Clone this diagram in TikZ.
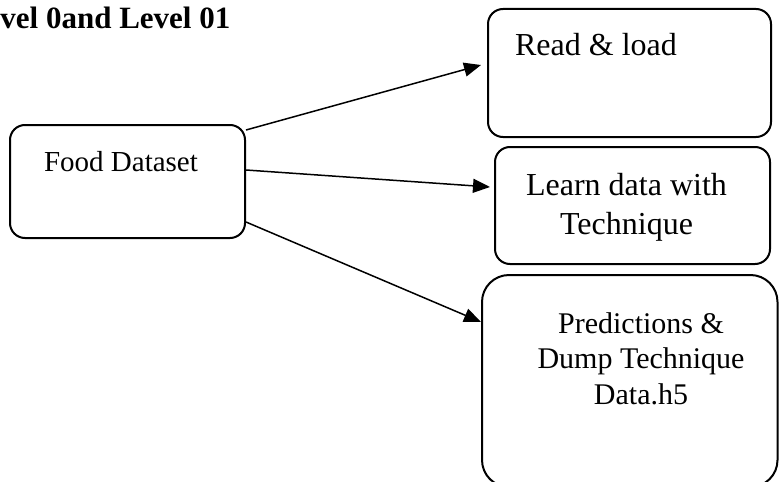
\documentclass[tikz,border=0pt]{standalone}
\usepackage{fontspec}
\setmainfont{Liberation Serif}
\usetikzlibrary{arrows.meta}
\tikzset{
  box/.style={draw, line width=1pt, rounded corners=#1, inner sep=0pt},
  box/.default=7.5pt,
  flow/.style={line width=0.75pt, -{Triangle[length=8.5pt,width=7pt]}},
  txt/.style={inner sep=0pt, anchor=base},
}
\begin{document}
\begin{tikzpicture}[x=0.5pt,y=-0.5pt]
\useasboundingbox (0,0) rectangle (779,481);

% title
\node[txt, anchor=base west] (title) at (0,29) {\fontsize{15.5pt}{18pt}\selectfont\bfseries vel 0and Level 01};

% boxes
\node[box, minimum width=117.5pt, minimum height=56.5pt] (food) at (127.5,181.5) {};
\node[box, minimum width=141.5pt, minimum height=64pt] (read) at (629.5,73) {};
\node[box, minimum width=137.5pt, minimum height=58.5pt] (learn) at (632.5,205.5) {};
\node[box=13.5pt, minimum width=147.75pt, minimum height=106pt] (pred) at (629.75,381) {};

% box texts
\node[txt] (foodt) at (121,171) {\fontsize{14.5pt}{17pt}\selectfont Food Dataset};
\node[txt] (readt) at (596,55) {\fontsize{16pt}{19pt}\selectfont Read \& load};
\node[txt] (learnt1) at (626.5,195) {\fontsize{16pt}{19pt}\selectfont Learn data with};
\node[txt] (learnt2) at (626.5,234) {\fontsize{16pt}{19pt}\selectfont Technique};
\node[txt] (predt1) at (641,333) {\fontsize{15pt}{18pt}\selectfont Predictions \&};
\node[txt] (predt2) at (641,368) {\fontsize{15pt}{18pt}\selectfont Dump Technique};
\node[txt] (predt3) at (641,404) {\fontsize{15pt}{18pt}\selectfont Data.h5};

% connector end points
\coordinate (s1) at (food.east |- 0,130);
\coordinate (s2) at (food.east |- 0,170);
\coordinate (s3) at (food.east |- 0,222);
\coordinate (e1) at (481,65);
\coordinate (e2) at (490,187);
\coordinate (e3) at (pred.west |- 0,322);

\draw[flow] (s1) -- (e1);
\draw[flow] (s2) -- (e2);
\draw[flow] (s3) -- (e3);
\end{tikzpicture}
\end{document}
